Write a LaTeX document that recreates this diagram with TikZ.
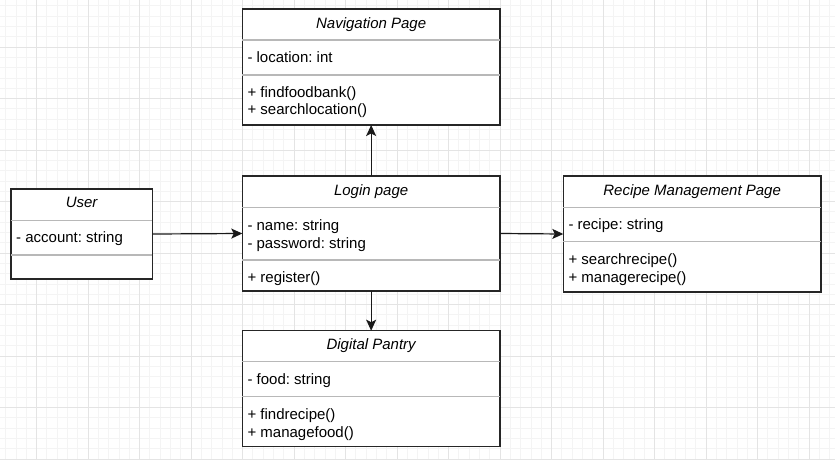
\documentclass[tikz,border=0pt]{standalone}
\usepackage{fontspec}
\setmainfont{Liberation Sans}
\usetikzlibrary{arrows.meta}
\frenchspacing

\definecolor{GridMinor}{HTML}{F4F4F4}
\definecolor{GridMajor}{HTML}{E4E4E4}
\definecolor{SepGray}{HTML}{B8B8B8}

\begin{document}
\begin{tikzpicture}[x=1pt, y=-1pt,
  classbox/.style={draw=black!85, line width=1.2pt, fill=white, inner sep=0pt, outer sep=0pt, anchor=north west},
  sepline/.style={draw=SepGray, line width=1.4pt},
  title/.style={font=\fontsize{15}{17.3}\selectfont\itshape, anchor=base, inner sep=0pt},
  member/.style={font=\fontsize{15}{17.3}\selectfont, anchor=base west, inner sep=0pt},
  link/.style={-{Stealth[length=11pt,width=10pt,inset=2.5pt]}, line width=1.2pt, draw=black!90}]

 \useasboundingbox (0,0) rectangle (835,459);
 \fill[white] (0,0) rectangle (835,459);

 %%%%%%%%%% Grid %%%%%%%%%%
 \begin{scope}
  \clip (0,0) rectangle (835,459);
  \foreach \k in {-4,...,78}
   \draw[GridMinor, line width=0.8pt] ({36.5+10.3*\k},0) -- ({36.5+10.3*\k},459);
  \foreach \k in {-5,...,41}
   \draw[GridMinor, line width=0.8pt] (0,{47+10.3*\k}) -- (835,{47+10.3*\k});
  \foreach \k in {-1,...,16}
   \draw[GridMajor, line width=0.9pt] ({36.5+51.5*\k},0) -- ({36.5+51.5*\k},459);
  \foreach \k in {-1,...,8}
   \draw[GridMajor, line width=0.9pt] (0,{47+51.5*\k}) -- (835,{47+51.5*\k});
 \end{scope}

 %%%%%%%%%% Class boxes %%%%%%%%%%
 \node[classbox, minimum width=257.7pt, minimum height=116pt] (nav) at (242.3,9) {};
 \node[classbox, minimum width=257.7pt, minimum height=115pt] (login) at (242.3,176) {};
 \node[classbox, minimum width=141.3pt, minimum height=90pt] (user) at (11,189) {};
 \node[classbox, minimum width=257.7pt, minimum height=116pt] (recipe) at (563.3,176) {};
 \node[classbox, minimum width=257.7pt, minimum height=116pt] (pantry) at (242.3,330.7) {};

 % Compartments
 \draw[sepline] ([yshift=-31pt]nav.north west) -- ([yshift=-31pt]nav.north east);
 \draw[sepline] ([yshift=-66pt]nav.north west) -- ([yshift=-66pt]nav.north east);
 \draw[sepline] ([yshift=-31.3pt]login.north west) -- ([yshift=-31.3pt]login.north east);
 \draw[sepline] ([yshift=-84pt]login.north west) -- ([yshift=-84pt]login.north east);
 \draw[sepline] ([yshift=-31.3pt]user.north west) -- ([yshift=-31.3pt]user.north east);
 \draw[sepline] ([yshift=-66pt]user.north west) -- ([yshift=-66pt]user.north east);
 \draw[sepline] ([yshift=-31.3pt]recipe.north west) -- ([yshift=-31.3pt]recipe.north east);
 \draw[sepline] ([yshift=-65.7pt]recipe.north west) -- ([yshift=-65.7pt]recipe.north east);
 \draw[sepline] ([yshift=-31pt]pantry.north west) -- ([yshift=-31pt]pantry.north east);
 \draw[sepline] ([yshift=-66pt]pantry.north west) -- ([yshift=-66pt]pantry.north east);

 %%%%%%%%%% Texts %%%%%%%%%%
 % Navigation Page
 \node[title] (navtitle) at (371.15,28) {Navigation Page};
 \node[member] (navloc) at (247.3,62.5) {- location: int};
 \node[member] (navfind) at (247.3,97) {+ findfoodbank()};
 \node[member] (navsearch) at (247.3,114.5) {+ searchlocation()};

 % Login page
 \node[title] (logintitle) at (371.15,195.5) {Login page};
 \node[member] (loginname) at (247.3,230) {- name: string};
 \node[member] (loginpass) at (247.3,248) {- password: string};
 \node[member] (loginreg) at (247.3,282.3) {+ register()};

 % User
 \node[title] (usertitle) at (81.65,207) {User};
 \node[member] (useracc) at (16,242.7) {- account: string};

 % Recipe Management Page
 \node[title] (recipetitle) at (692.15,195) {Recipe Management Page};
 \node[member] (reciperec) at (568.3,229.3) {- recipe: string};
 \node[member] (recipesearch) at (568.3,264.3) {+ searchrecipe()};
 \node[member] (recipemanage) at (568.3,282.3) {+ managerecipe()};

 % Digital Pantry
 \node[title] (pantrytitle) at (371.15,349.3) {Digital Pantry};
 \node[member] (pantryfood) at (247.3,384) {- food: string};
 \node[member] (pantryfind) at (247.3,419.3) {+ findrecipe()};
 \node[member] (pantrymanage) at (247.3,437.3) {+ managefood()};

 %%%%%%%%%% Arrows %%%%%%%%%%
 \draw[link] (user.east) -- (login.west);
 \draw[link] (login.east) -- (recipe.west);
 \draw[link] (login.north) -- (nav.south);
 \draw[link] (login.south) -- (pantry.north);

\end{tikzpicture}
\end{document}
